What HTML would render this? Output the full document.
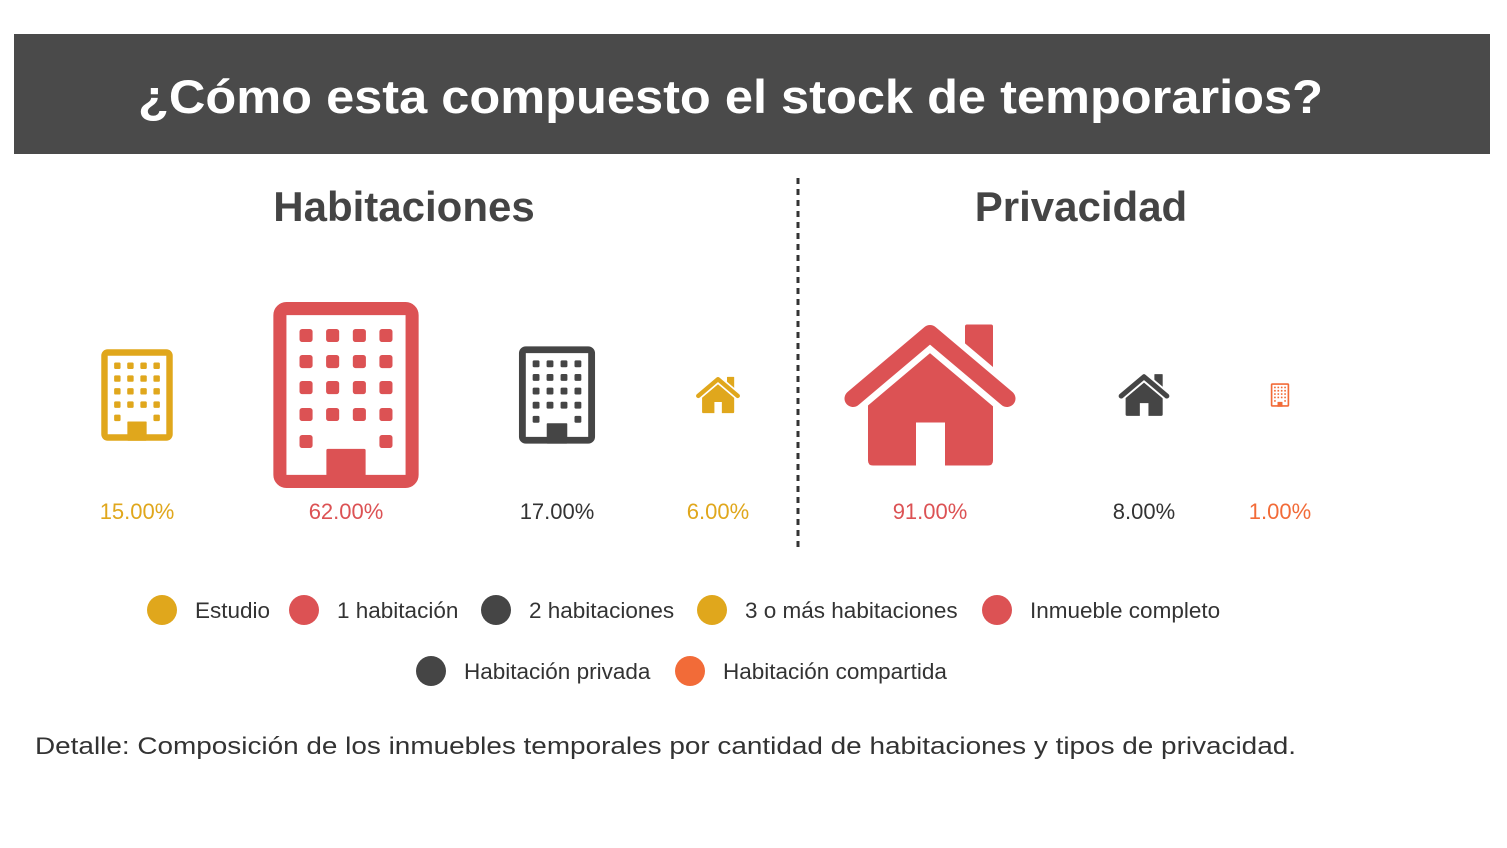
<!DOCTYPE html>
<html><head><meta charset="utf-8">
<style>
html,body{margin:0;padding:0;background:#fff;width:1507px;height:848px;overflow:hidden}
svg{display:block}
text{font-family:"Liberation Sans",sans-serif}
</style></head>
<body>
<svg id="chart" width="1507" height="848" viewBox="0 0 1507 848" xmlns="http://www.w3.org/2000/svg">
  <rect x="14" y="34" width="1476" height="120" fill="#4a4a4a"/>
  <text x="138" y="113" font-size="47" font-weight="bold" fill="#fff" textLength="1185" lengthAdjust="spacingAndGlyphs">¿Cómo esta compuesto el stock de temporarios?</text>
  <text x="404" y="221" font-size="42" font-weight="bold" fill="#444" text-anchor="middle">Habitaciones</text>
  <text x="1081" y="221" font-size="42" font-weight="bold" fill="#444" text-anchor="middle">Privacidad</text>
  <line x1="798" y1="178" x2="798" y2="548" stroke="#333" stroke-width="3" stroke-dasharray="6,5"/>
  <g id="marks"></g>
  <g id="legend"></g>
  <text x="35" y="754" font-size="24" fill="#333" textLength="1261" lengthAdjust="spacingAndGlyphs">Detalle: Composición de los inmuebles temporales por cantidad de habitaciones y tipos de privacidad.</text>
</svg>
<script>
const categories = ["Estudio","1 habitación","2 habitaciones","3 o más habitaciones","Inmueble completo","Habitación privada","Habitación compartida"];
const values = [15, 62, 17, 6, 91, 8, 1];
const labels = ["15.00%","62.00%","17.00%","6.00%","91.00%","8.00%","1.00%"];
const iconTypes = ["building","building","building","house","house","house","building"];
const colors = ["#e0a71c","#dc5254","#454545","#e0a71c","#dc5254","#454545","#f26b38"];
const centersX = [137, 346, 557, 718, 930, 1144, 1280];

const NS = "http://www.w3.org/2000/svg";
const marks = document.getElementById("marks");
const K = 18.45;
const CY = 395;
function mk(tag, attrs, parent){const e=document.createElementNS(NS,tag);for(const k in attrs)e.setAttribute(k,attrs[k]);parent.appendChild(e);return e;}

values.forEach((v,i)=>{
  const w = K*Math.sqrt(v);
  const cx = centersX[i];
  const g = mk("g",{},marks);
  
  
  const c = colors[i];
  if(iconTypes[i]==="building"){
    const h = w*1.28, x=cx-w/2, y=CY-h/2, t=w*0.09;
    mk("rect",{x:x+t/2,y:y+t/2,width:w-t,height:h-t,rx:t*0.5,fill:"#fff",stroke:c,"stroke-width":t},g);
    const cols=[0.225,0.408,0.592,0.775], rows=[0.18,0.32,0.46,0.605,0.75], s=w*0.09;
    rows.forEach((ry,ri)=>cols.forEach((rx,ci)=>{
      if(ri===4 && (ci===1||ci===2)) return;
      mk("rect",{x:x+rx*w-s/2,y:y+ry*h-s/2,width:s,height:s,rx:s*0.2,fill:c},g);
    }));
    mk("rect",{x:x+0.365*w,y:y+0.79*h,width:0.27*w,height:0.21*h,rx:w*0.01,fill:c},g);
  } else {
    const sc = w/176, h=141*sc, x=cx-w/2, y=CY-h/2;
    const gg = mk("g",{transform:`translate(${x},${y}) scale(${sc})`},g);
    mk("rect",{x:123,y:0,width:28,height:55,rx:2,fill:c},gg);
    mk("path",{d:"M26,80 L88,28 L151,80 L151,136 Q151,141 146,141 L103,141 L103,98 L74,98 L74,141 L31,141 Q26,141 26,136 Z",fill:c},gg);
    mk("polyline",{points:"11,74 88,9 165,74",fill:"none",stroke:"#fff","stroke-width":30,"stroke-linecap":"round","stroke-linejoin":"round"},gg);
    mk("polyline",{points:"11,74 88,9 165,74",fill:"none",stroke:c,"stroke-width":17,"stroke-linecap":"round","stroke-linejoin":"round"},gg);
  }
  const tx = mk("text",{x:cx,y:519,"font-size":22,fill:c==="#454545"?"#333":c,"text-anchor":"middle"},marks);
  tx.textContent = labels[i];
  
  
});

const legend = document.getElementById("legend");
const legX = [162, 304, 496, 712, 997, 431, 690];
const legY = [610, 610, 610, 610, 610, 671, 671];
categories.forEach((name,i)=>{
  const g = mk("g",{},legend);
  
  
  mk("circle",{cx:legX[i],cy:legY[i],r:15,fill:colors[i]},g);
  const t = mk("text",{x:legX[i]+33,y:legY[i]+8,"font-size":22.5,fill:"#333"},g);
  t.textContent = name;
});
</script>
</body></html>
